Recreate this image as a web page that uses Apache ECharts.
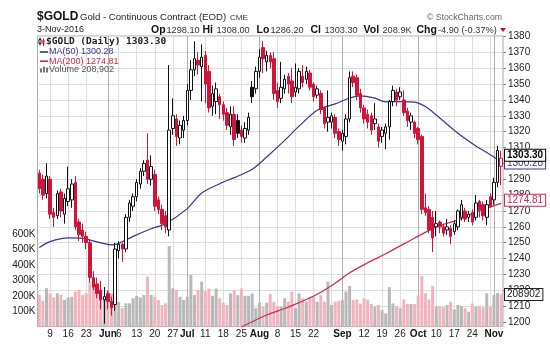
<!DOCTYPE html>
<html><head><meta charset="utf-8">
<script src="https://cdn.jsdelivr.net/npm/echarts@6/dist/echarts.min.js"></script>
<style>html,body{margin:0;padding:0;background:#fff}#c{width:550px;height:348px}</style>
</head><body><div id="c"></div>
<script>
const dates = [
'2016-05-04','2016-05-05','2016-05-06','2016-05-09','2016-05-10','2016-05-11','2016-05-12','2016-05-13','2016-05-16','2016-05-17','2016-05-18','2016-05-19','2016-05-20','2016-05-23','2016-05-24','2016-05-25','2016-05-26','2016-05-27','2016-05-31',
'2016-06-01','2016-06-02','2016-06-03','2016-06-06','2016-06-07','2016-06-08','2016-06-09','2016-06-10','2016-06-13','2016-06-14','2016-06-15','2016-06-16','2016-06-17','2016-06-20','2016-06-21','2016-06-22','2016-06-23','2016-06-24','2016-06-27','2016-06-28','2016-06-29','2016-06-30',
'2016-07-01','2016-07-05','2016-07-06','2016-07-07','2016-07-08','2016-07-11','2016-07-12','2016-07-13','2016-07-14','2016-07-15','2016-07-18','2016-07-19','2016-07-20','2016-07-21','2016-07-22','2016-07-25','2016-07-26','2016-07-27','2016-07-28','2016-07-29',
'2016-08-01','2016-08-02','2016-08-03','2016-08-04','2016-08-05','2016-08-08','2016-08-09','2016-08-10','2016-08-11','2016-08-12','2016-08-15','2016-08-16','2016-08-17','2016-08-18','2016-08-19','2016-08-22','2016-08-23','2016-08-24','2016-08-25','2016-08-26','2016-08-29','2016-08-30','2016-08-31',
'2016-09-01','2016-09-02','2016-09-06','2016-09-07','2016-09-08','2016-09-09','2016-09-12','2016-09-13','2016-09-14','2016-09-15','2016-09-16','2016-09-19','2016-09-20','2016-09-21','2016-09-22','2016-09-23','2016-09-26','2016-09-27','2016-09-28','2016-09-29','2016-09-30',
'2016-10-03','2016-10-04','2016-10-05','2016-10-06','2016-10-07','2016-10-10','2016-10-11','2016-10-12','2016-10-13','2016-10-14','2016-10-17','2016-10-18','2016-10-19','2016-10-20','2016-10-21','2016-10-24','2016-10-25','2016-10-26','2016-10-27','2016-10-28','2016-10-31',
'2016-11-01','2016-11-02','2016-11-03'];

const opens = [
1294,1290,1281,1290,1269,1267,1282,1268,1276,1277,1288,1263,1258,1254,1250,1228,1224,1220,1214,
1218,1213,1211,1245,1249,1246,1266,1273,1279,1287,1295,1302,1290,1293,1277,1271,1267,1258,1322,1328,1316,1321,
1327,1346,1359,1365,1361,1368,1358,1336,1339,1342,1337,1332,1323,1331,1327,1321,1316,1321,1348,1347,
1358,1373,1364,1368,1366,1346,1341,1347,1355,1352,1345,1347,1355,1353,1357,1350,1343,1344,1335,1326,1326,1329,1320,
1314,1317,1328,1355,1354,1344,1335,1331,1330,1325,1323,1317,1319,1323,1339,1345,1342,1340,1333,1326,1326,
1322,1317,1272,1271,1266,1260,1263,1260,1258,1259,1257,1260,1266,1270,1266,1269,1266,1276,1274,1266,1279,
1277,1288,1298.1];
const highs = [
1296,1293,1300,1292,1272,1283,1284,1281,1298,1290,1292,1265,1262,1257,1252,1232,1228,1226,1222,
1220,1216,1250,1251,1250,1268,1277,1281,1290,1297,1302,1319,1305,1296,1279,1274,1270,1362,1341,1331,1327,1330,
1350,1365,1377,1370,1375,1371,1362,1349,1351,1344,1339,1335,1336,1336,1331,1324,1326,1332,1352,1361,
1372,1377,1371,1370,1370,1351,1364,1356,1357,1360,1363,1360,1362,1361,1359,1351,1349,1346,1336,1346,1332,1331,1322,
1321,1331,1358,1358,1356,1347,1337,1334,1332,1338,1325,1323,1325,1340,1349,1347,1348,1346,1335,1332,1327,
1323,1318,1281,1273,1270,1270,1264,1262,1265,1261,1264,1271,1277,1272,1270,1271,1280,1277,1276,1277,1281,
1291,1311,1308];
const lows = [
1281,1277,1278,1265,1260,1265,1266,1262,1273,1272,1258,1251,1250,1246,1225,1220,1215,1208,1199,
1208,1204,1207,1240,1238,1244,1263,1270,1276,1284,1292,1287,1286,1270,1268,1258,1256,1254,1318,1311,1312,1316,
1324,1340,1355,1356,1339,1338,1332,1330,1331,1328,1327,1321,1318,1311,1316,1313,1313,1318,1338,1344,
1354,1357,1358,1360,1340,1335,1338,1344,1344,1338,1342,1344,1348,1350,1346,1339,1341,1331,1322,1320,1322,1316,1311,
1308,1312,1326,1348,1340,1332,1325,1322,1318,1321,1310,1313,1309,1315,1336,1336,1340,1330,1323,1321,1316,
1312,1268,1267,1256,1244,1254,1256,1254,1255,1249,1255,1258,1264,1263,1263,1261,1264,1266,1264,1261,1272,
1274,1285,1286.2];
const closes = [
1284,1280,1292,1268,1266,1281,1270,1278,1284,1287,1260,1255,1254,1250,1228,1222,1218,1214,1216,
1213,1209,1246,1249,1246,1266,1275,1279,1288,1295,1300,1290,1298,1273,1271,1262,1260,1321,1330,1317,1324,1327,
1346,1359,1366,1362,1367,1350,1335,1344,1347,1337,1331,1324,1331,1315,1319,1317,1322,1329,1342,1358,
1367,1366,1368,1364,1344,1339,1348,1353,1350,1342,1348,1358,1351,1358,1348,1342,1347,1334,1325,1329,1330,1319,1315,
1319,1328,1354,1351,1343,1335,1328,1326,1321,1328,1314,1321,1323,1339,1346,1340,1345,1332,1327,1330,1319,
1315,1271,1269,1258,1253,1262,1260,1256,1260,1254,1262,1270,1274,1265,1268,1263,1275,1271,1267,1274,1273,
1288,1308.2,1303.3];
// volume in thousands
const volumes = [
205,168,249,216,190,216,205,173,190,194,227,238,205,216,292,260,216,227,194,
194,216,230,160,120,151,151,184,200,190,205,324,205,194,173,140,151,523,249,238,194,173,
194,335,205,238,292,230,247,200,247,184,155,140,215,237,204,247,200,200,215,120,
155,130,155,212,162,130,130,184,162,227,120,215,184,162,194,194,162,204,162,292,140,162,168,
172,227,264,172,176,150,184,176,147,130,140,108,86,256,150,130,120,176,147,147,147,
201,328,216,176,264,130,130,126,140,162,111,140,134,120,97,150,130,130,126,216,130,
204,219,208.902];

const ma50Dates = ['2016-05-04','2016-05-09','2016-05-16','2016-05-20','2016-05-26','2016-06-02','2016-06-06','2016-06-10','2016-06-17','2016-06-23','2016-07-01','2016-07-08','2016-07-15','2016-07-21','2016-07-28','2016-08-03','2016-08-10','2016-08-16','2016-08-23','2016-08-30','2016-09-06','2016-09-09','2016-09-15','2016-09-20','2016-09-26','2016-09-30','2016-10-05','2016-10-10','2016-10-18','2016-10-25','2016-11-01','2016-11-03'];
const ma50Values = [1247.0,1250.7,1253.0,1252.7,1250.5,1248.6,1249.6,1254.0,1258.8,1262.0,1271.5,1281.3,1287.2,1291.0,1296.3,1304.0,1314.5,1323.5,1333.5,1337.5,1341.2,1342.6,1341.1,1338.8,1339.0,1338.6,1335.8,1330.5,1319.0,1311.0,1304.0,1300.28];
const ma200Dates = ['2016-07-25','2016-08-03','2016-08-10','2016-08-16','2016-08-23','2016-08-30','2016-09-06','2016-09-13','2016-09-20','2016-09-26','2016-09-30','2016-10-05','2016-10-10','2016-10-18','2016-10-25','2016-11-01','2016-11-03'];
const ma200Values = [1196.8,1204.4,1208.5,1212.2,1217.5,1224.5,1231.0,1237.3,1243.0,1248.0,1253.0,1256.5,1260.0,1264.4,1269.4,1273.4,1274.81];

const xTickDates = ['2016-05-09','2016-05-16','2016-05-23','2016-06-01','2016-06-06','2016-06-13','2016-06-20','2016-06-27','2016-07-01','2016-07-11','2016-07-18','2016-07-25','2016-08-01','2016-08-08','2016-08-15','2016-08-22','2016-09-01','2016-09-12','2016-09-19','2016-09-26','2016-10-03','2016-10-10','2016-10-17','2016-10-24','2016-11-01'];
const xTickLabels = ['9','16','23','Jun','6','13','20','27','Jul','11','18','25','Aug','8','15','22','Sep','12','19','26','Oct','10','17','24','Nov'];
const monthStartDates = ['2016-06-01','2016-07-01','2016-08-01','2016-09-01','2016-10-03','2016-11-01'];
const extraGridDates = ['2016-08-29','2016-10-31'];
const volumeLabels = [100,200,300,400,500,600];

const lastClose = 1303.30, lastMA50 = 1300.28, lastMA200 = 1274.81, lastVolume = 208.902;

const RED = '#d2143a', BLACK = '#111', PINK = '#f0b4be', GREY = '#b8b8b8';
const FONT = '"Liberation Sans", Arial, sans-serif';

const candleData = dates.map((d, i) => {
  const o = opens[i], c = closes[i];
  const prev = i > 0 ? closes[i - 1] : o;
  const up = c >= prev;
  const edge = up ? BLACK : RED;
  const fill = c > o ? '#fff' : edge;
  return {value: [o, c, lows[i], highs[i]], itemStyle: {color: fill, color0: fill, borderColor: edge, borderColor0: edge, borderColorDoji: edge}};
});
const volData = dates.map((d, i) => {
  const prev = i > 0 ? closes[i - 1] : opens[i];
  return {value: volumes[i], itemStyle: {color: closes[i] >= prev ? GREY : PINK}};
});
function sparse(ds, vs) {
  const arr = dates.map(() => null);
  ds.forEach((d, k) => { arr[dates.indexOf(d)] = vs[k]; });
  return arr;
}
const gridLineData = [];
xTickDates.concat(extraGridDates).forEach(d => {
  const month = monthStartDates.indexOf(d) >= 0;
  gridLineData.push({xAxis: d, lineStyle: {color: month ? '#b0b0b0' : '#dedede', width: 1, type: 'solid'}});
});

function boxLabel(text, color, bold, offY) {
  return {show: true, position: 'end', distance: 2, formatter: text, color: color, fontSize: 10,
    fontWeight: bold ? 'bold' : 'normal', fontFamily: FONT, backgroundColor: '#fff', borderColor: color,
    borderWidth: 1, padding: [1, 2, 0, 2], lineHeight: 10, offset: [0, offY]};
}
const hiddenLine = {color: 'rgba(0,0,0,0)', width: 1};

const chart = echarts.init(document.getElementById('c'), null, {renderer: 'canvas'});
function T(text, x, y, font, fill) {
  return {type: 'text', x: x, y: y, silent: true, z: 20, style: {text: text, font: font, fill: fill, verticalAlign: 'middle', align: 'left'}};
}
const f = (s, w) => (w ? 'bold ' : '') + s + 'px ' + FONT;

chart.setOption({
  animation: false,
  backgroundColor: '#fff',
  textStyle: {fontFamily: FONT},
  grid: [
    {left: 37.5, right: 47, top: 36.5, bottom: 26, show: false},
    {left: 37.5, right: 47, top: 36, bottom: 21.4, show: true, borderColor: '#aaa', borderWidth: 1, backgroundColor: 'transparent'}
  ],
  xAxis: [
    {gridIndex: 0, type: 'category', data: dates, boundaryGap: true, show: false},
    {gridIndex: 1, type: 'category', data: dates, boundaryGap: true,
      axisLine: {show: false}, axisTick: {show: false}, splitLine: {show: false},
      axisLabel: {interval: (i, v) => xTickDates.indexOf(v) >= 0, margin: 3, fontSize: 10, color: '#222',
        formatter: v => { const k = xTickDates.indexOf(v); if (k < 0) return ''; const t = xTickLabels[k]; return isNaN(+t) ? '{m|' + t + '}' : t; },
        rich: {m: {fontWeight: 'bold', fontSize: 10, color: '#111', fontFamily: FONT}}}}
  ],
  yAxis: [
    {gridIndex: 0, type: 'value', position: 'right', min: 1200, max: 1380, interval: 10,
      axisLine: {show: false}, axisTick: {show: true, length: 3, lineStyle: {color: '#888'}},
      axisLabel: {fontSize: 10, color: '#222', margin: 5, formatter: v => String(v)},
      splitLine: {show: true, lineStyle: {color: '#dedede', width: 1}}},
    {gridIndex: 1, type: 'value', position: 'left', min: 0, max: 1887, interval: 100,
      axisLine: {show: false}, axisTick: {show: false}, splitLine: {show: false},
      axisLabel: {fontSize: 10, color: '#222', margin: 2, formatter: v => volumeLabels.indexOf(v) >= 0 ? v + 'K' : ''}}
  ],
  series: [
    {type: 'line', xAxisIndex: 1, yAxisIndex: 1, data: dates.map(() => null), z: 1, silent: true,
      markLine: {silent: true, z: 1, symbol: ['none', 'none'], label: {show: false}, data: gridLineData}},
    {name: 'Volume', type: 'bar', xAxisIndex: 1, yAxisIndex: 1, data: volData, barWidth: 3, z: 2,
      markLine: {silent: true, z: 8, symbol: ['none', 'none'], lineStyle: hiddenLine,
        data: [{yAxis: lastVolume, label: boxLabel('208902', '#222', false, 0)}]}},
    {name: 'MA200', type: 'line', xAxisIndex: 0, yAxisIndex: 0, data: sparse(ma200Dates, ma200Values),
      connectNulls: true, smooth: 0.3, showSymbol: false, clip: false, z: 3,
      lineStyle: {color: '#cc2a50', width: 1.2},
      markLine: {silent: true, z: 8, symbol: ['none', 'none'], lineStyle: hiddenLine,
        data: [{yAxis: lastMA200, label: boxLabel('1274.81', '#cc2a50', false, -3)}]}},
    {name: 'MA50', type: 'line', xAxisIndex: 0, yAxisIndex: 0, data: sparse(ma50Dates, ma50Values),
      connectNulls: true, smooth: 0.3, showSymbol: false, z: 3,
      lineStyle: {color: '#36368f', width: 1.2},
      markLine: {silent: true, z: 6, symbol: ['none', 'none'], lineStyle: hiddenLine,
        data: [{yAxis: lastMA50, label: boxLabel('1300.28', '#36368f', false, 0)}]}},
    {name: '$GOLD', type: 'candlestick', xAxisIndex: 0, yAxisIndex: 0, data: candleData, barWidth: 3, z: 4,
      itemStyle: {borderWidth: 1},
      markLine: {silent: true, z: 9, symbol: ['none', 'none'], lineStyle: hiddenLine,
        data: [{yAxis: lastClose, label: boxLabel('1303.30', '#000', true, -3)}]}}
  ],
  graphic: {elements: [
    T('$GOLD', 37, 16.7, f(12, true), '#111'),
    T('Gold - Continuous Contract (EOD)', 80, 17, f(9.6), '#222'),
    T('CME', 230, 17.5, f(8), '#333'),
    T('\u00A9 StockCharts.com', 427, 17.5, f(8.7), '#666'),
    T('3-Nov-2016', 37, 30, f(9), '#222'),
    T('Op', 151, 30, f(10.5, true), '#111'), T('1298.10', 166.5, 30, f(9.2), '#333'),
    T('Hi', 202.5, 30, f(10.5, true), '#111'), T('1308.00', 216.5, 30, f(9.2), '#333'),
    T('Lo', 256.5, 30, f(10.5, true), '#111'), T('1286.20', 270.5, 30, f(9.2), '#333'),
    T('Cl', 310.5, 30, f(10.5, true), '#111'), T('1303.30', 324.5, 30, f(9.2), '#333'),
    T('Vol', 363.5, 30, f(10.5, true), '#111'), T('208.9K', 382.5, 30, f(9.2), '#333'),
    T('Chg', 416.5, 30, f(10.5, true), '#111'), T('-4.90 (-0.37%)', 438, 30, f(9.2), '#333'),
    {type: 'polygon', silent: true, z: 20, shape: {points: [[500, 28], [506, 28], [503, 32]]}, style: {fill: '#c8102e'}},
    {type: 'line', silent: true, z: 20, shape: {x1: 40, y1: 37.5, x2: 40, y2: 45.5}, style: {stroke: '#111', lineWidth: 1}},
    {type: 'rect', silent: true, z: 21, shape: {x: 39, y: 39.5, width: 2, height: 4}, style: {fill: '#fff', stroke: '#111', lineWidth: 1}},
    {type: 'line', silent: true, z: 20, shape: {x1: 43.5, y1: 38.5, x2: 43.5, y2: 46}, style: {stroke: RED, lineWidth: 1}},
    {type: 'rect', silent: true, z: 21, shape: {x: 42.5, y: 40, width: 2, height: 4}, style: {fill: RED}},
    T('$GOLD (Daily) 1303.30', 46, 41.7, 'bold 9.5px "DejaVu Sans Mono", monospace', '#222'),
    {type: 'line', silent: true, z: 20, shape: {x1: 40, y1: 52, x2: 48, y2: 52}, style: {stroke: '#36368f', lineWidth: 1.6}},
    T('MA(50) 1300.28', 49, 52, f(9), '#36368f'),
    {type: 'line', silent: true, z: 20, shape: {x1: 40, y1: 61.2, x2: 48, y2: 61.2}, style: {stroke: '#cc2a50', lineWidth: 1.6}},
    T('MA(200) 1274.81', 49, 61.2, f(9), '#cc2a50'),
    {type: 'rect', silent: true, z: 20, shape: {x: 40, y: 68.5, width: 2, height: 4}, style: {fill: '#777'}},
    {type: 'rect', silent: true, z: 20, shape: {x: 43, y: 66.5, width: 2, height: 6}, style: {fill: '#777'}},
    {type: 'rect', silent: true, z: 20, shape: {x: 46, y: 67.5, width: 2, height: 5}, style: {fill: '#777'}},
    T('Volume 208,902', 49, 70, f(9), '#555')
  ]}
});
</script>
</body></html>
